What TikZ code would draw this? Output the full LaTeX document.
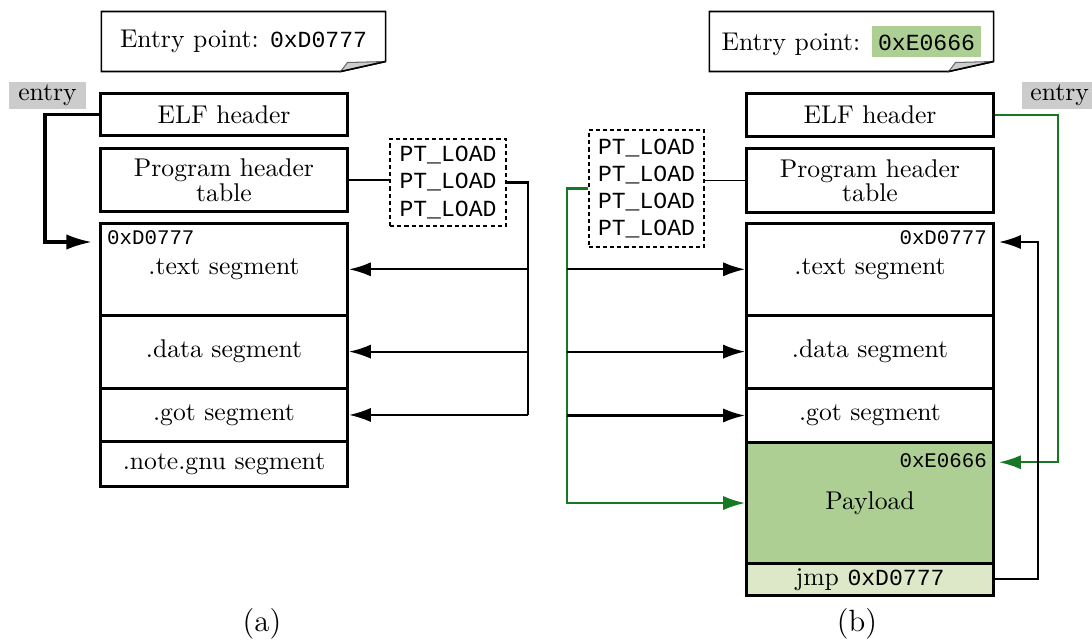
\documentclass[tikz,border=0pt]{standalone}
\usepackage{fontspec}
\setmonofont{Liberation Mono}[Scale=0.9]
\usepackage{tikz}
\usetikzlibrary{calc,positioning,arrows.meta}
\definecolor{paygreen}{RGB}{173,207,148}
\definecolor{jmpgreen}{RGB}{221,232,200}
\definecolor{linkgreen}{RGB}{22,120,37}
\tikzset{seg/.style={draw=black, very thick, fill=white, minimum width=96.3pt, inner sep=1pt, align=center}}
\tikzset{addr/.style={font=\small\ttfamily, inner sep=3pt}}

\begin{document}
\begin{tikzpicture}[
  x=0.39pt,y=-0.39pt,
  >={Latex[length=8.5pt,width=5.5pt]},
  loadbox/.style={draw=black, thick, dash pattern=on 1.6pt off 1.2pt, minimum width=45.2pt,
                  align=center, inner sep=2pt, font=\fontsize{10}{10.6}\selectfont\ttfamily},
  entrytag/.style={fill=black!20, inner xsep=3.5pt, inner ysep=1pt},
  notebox/.style={minimum width=110.4pt, minimum height=23pt, inner sep=0pt},
  fold/.style={fill=black!20, draw=black!60, thin},
  link/.style={thick, ->},
  greenlink/.style={thick, color=linkgreen, ->}
]
  \useasboundingbox (0,0) rectangle (1092,641);

  % (a) original binary
  \node[notebox] (epA) at (243.5,41.5) {Entry point: \texttt{0xD0777}};
  \draw[semithick] (epA.north west) -- (epA.north east) -- ($(epA.south east)+(0,-10)$)
    -- ($(epA.south east)+(-45,0)$) -- (epA.south west) -- cycle;
  \filldraw[fold] ($(epA.south east)+(-45,0)$) -- ($(epA.south east)+(-38,-9)$) -- ($(epA.south east)+(0,-10)$) -- cycle;
  \draw[semithick] ($(epA.south east)+(-45,0)$) -- ($(epA.south east)+(0,-10)$);

  \node[entrytag] (entA) at (47.5,95.5) {entry};

  \node[seg, anchor=north west, minimum height=16.4pt] (elfA) at (99,92) {ELF header};
  \node[seg, below=3.9pt of elfA, minimum height=24.5pt] (phtA) {Program header\\[-2.5pt]table};
  \node[seg, below=3.5pt of phtA, minimum height=35.7pt] (textA) {.text segment};
  \node[seg, below=-1.2pt of textA, minimum height=28.5pt] (dataA) {.data segment};
  \node[seg, below=-1.2pt of dataA, minimum height=20.9pt] (gotA) {.got segment};
  \node[seg, below=-1.2pt of gotA, minimum height=17.5pt] (noteA) {.note.gnu segment};
  \node[addr, anchor=north west] (addrA) at (textA.north west) {0xD0777};

  \node[loadbox, minimum height=33.9pt] (loadA) at (448,182.5) {PT\_LOAD\\PT\_LOAD\\PT\_LOAD};
  \draw[semithick] (phtA.east) -- (phtA.east -| loadA.west);

  \coordinate (busA) at (528,0);
  \draw[thick] (loadA.east) -| (busA |- gotA.east);
  \foreach \s in {textA,dataA,gotA}
    \draw[link] (busA |- \s.east) -- (\s.east);

  \coordinate (turnA) at (45,0);
  \coordinate (inA) at ($(textA.north west)+(-7,20)$);
  \draw[very thick, -{Latex[length=10pt,width=6pt]}] (elfA.west) -- (elfA.west -| turnA) |- (inA);

  \node[font=\large] (capA) at (262,624) {(a)};

  % (b) infected binary
  \node[notebox] (epB) at (851.5,41.5)
    {Entry point: {\setlength\fboxsep{2.5pt}\colorbox{paygreen}{\ttfamily\rule{0pt}{7pt}0xE0666}}};
  \draw[semithick] (epB.north west) -- (epB.north east) -- ($(epB.south east)+(0,-10)$)
    -- ($(epB.south east)+(-45,0)$) -- (epB.south west) -- cycle;
  \filldraw[fold] ($(epB.south east)+(-45,0)$) -- ($(epB.south east)+(-38,-9)$) -- ($(epB.south east)+(0,-10)$) -- cycle;
  \draw[semithick] ($(epB.south east)+(-45,0)$) -- ($(epB.south east)+(0,-10)$);

  \node[entrytag, anchor=west] (entB) at (1021,95.5) {entry};

  \node[seg, anchor=north west, minimum height=16.8pt] (elfB) at (745,92) {ELF header};
  \node[seg, below=3.5pt of elfB, minimum height=24.9pt] (phtB) {Program header\\[-2.5pt]table};
  \node[seg, below=3.1pt of phtB, minimum height=35.7pt] (textB) {.text segment};
  \node[seg, below=-1.2pt of textB, minimum height=28.5pt] (dataB) {.data segment};
  \node[seg, below=-1.2pt of dataB, minimum height=21.3pt] (gotB) {.got segment};
  \node[seg, below=-1.2pt of gotB, minimum height=47pt, fill=paygreen] (payB) {Payload};
  \node[seg, below=-1.2pt of payB, minimum height=12.5pt, inner ysep=0pt, fill=jmpgreen] (jmpB) {jmp \texttt{0xD0777}};
  \node[addr, anchor=north east] (addrB) at (textB.north east) {0xD0777};
  \node[addr, anchor=north east] (addrP) at ($(payB.north east)+(0,4)$) {0xE0666};

  \node[loadbox, minimum height=45.6pt] (loadB) at (646.5,188.5) {PT\_LOAD\\PT\_LOAD\\PT\_LOAD\\PT\_LOAD};
  \draw[semithick] (loadB.east |- phtB.west) -- (phtB.west);

  \coordinate (busB) at (567,0);
  \draw[greenlink] (loadB.west) -| (busB |- payB.west) -- (payB.west);
  \foreach \s in {textB,dataB,gotB}
    \draw[link] (busB |- \s.west) -- (\s.west);

  \coordinate (turnB) at (1058,0);
  \coordinate (inB) at ($(payB.north east)+(4,21)$);
  \draw[greenlink] (elfB.east) -- (elfB.east -| turnB) |- (inB);

  \coordinate (turnC) at (1038,0);
  \coordinate (inC) at ($(textB.north east)+(4,20)$);
  \draw[link] (jmpB.east) -- (jmpB.east -| turnC) |- (inC);

  \node[font=\large] (capB) at (857,624) {(b)};
\end{tikzpicture}
\end{document}
